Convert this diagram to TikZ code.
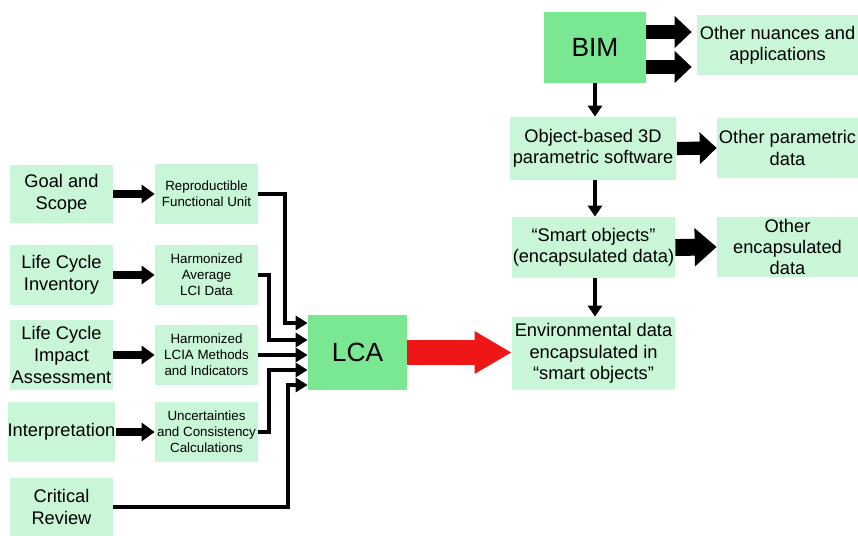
\documentclass[tikz,border=0pt]{standalone}
\usepackage{fontspec}
\setmainfont{Liberation Sans}
\usetikzlibrary{arrows.meta}
\definecolor{mintfill}{RGB}{200,246,214}
\definecolor{leaffill}{RGB}{122,232,146}
\definecolor{flowred}{RGB}{238,22,22}
\tikzset{
  % Boxes
  stagebox/.style  = { fill=mintfill, minimum width=2.06cm, inner xsep=0, align=center,
                        font=\fontsize{10.4}{12.6}\selectfont },
  detailbox/.style = { fill=mintfill, minimum width=2.06cm, minimum height=1.2cm, inner sep=0,
                        align=center, font=\fontsize{7.6}{9.2}\selectfont },
  corebox/.style   = { fill=leaffill, inner sep=0, font=\fontsize{15}{18}\selectfont },
  bimbox/.style    = { fill=mintfill, inner sep=0, align=center,
                        font=\fontsize{10.4}{12.2}\selectfont },
  % Arrows
  stepflow/.style  = { line width=4.2pt, -{Triangle[length=2.6mm,width=3.6mm]} },
  feedflow/.style  = { line width=2.3pt, -{Triangle[length=2.4mm,width=2.8mm]} },
  downflow/.style  = { line width=2.8pt, -{Triangle[length=2.2mm,width=2.8mm]} },
  sideflow/.style  = { line width=8.5pt, -{Triangle[length=3.4mm,width=6.2mm]} },
  mainflow/.style  = { flowred, line width=14pt, -{Triangle[length=7.4mm,width=8mm]} }
}

\begin{document}
\begin{tikzpicture}[x=0.02cm, y=-0.02cm]
  \useasboundingbox (0,0) rectangle (858,536);

  % --- LCA stages --------------------------------------------------
  \node[stagebox, minimum height=1.16cm] (goal)   at (61.5,194) {Goal and\\Scope};
  \node[stagebox, minimum height=1.2cm]  (lci)    at (61.5,275) {Life Cycle\\Inventory};
  \node[stagebox, minimum height=1.24cm] (lcia)   at (61.5,355) {Life Cycle\\Impact\\Assessment};
  \node[stagebox, minimum height=1.2cm]  (interp) at (61.5,432) {Interpretation};
  \node[stagebox, minimum height=1.16cm] (review) at (61.5,507) {Critical\\Review};

  \node[detailbox] (repro)   at (206.5,194) {Reproductible\\Functional Unit};
  \node[detailbox] (lcidata) at (206.5,275) {Harmonized\\Average\\LCI Data};
  \node[detailbox] (methods) at (206.5,355) {Harmonized\\LCIA Methods\\and Indicators};
  \node[detailbox] (unc)     at (206.5,432) {Uncertainties\\and Consistency\\Calculations};

  \node[corebox, minimum width=1.98cm, minimum height=1.5cm] (lca) at (357.5,352.5) {LCA};

  \foreach \a/\b in {goal/repro, lci/lcidata, lcia/methods, interp/unc}
    \draw[stepflow] (\a.east) -- (\b.west);

  % feeds into LCA
  \coordinate (k1) at (285,323);
  \coordinate (k2) at (269,340);
  \coordinate (k4) at (269,370);
  \coordinate (k5) at (288,385);
  \draw[feedflow] (repro.east) -| (k1) -- (k1 -| lca.west);
  \draw[feedflow] (lcidata.east) -| (k2) -- (k2 -| lca.west);
  \draw[feedflow] (methods.east) -- (methods.east -| lca.west);
  \draw[feedflow] (unc.east) -| (k4) -- (k4 -| lca.west);
  \draw[feedflow] (review.east) -| (k5) -- (k5 -| lca.west);

  % --- BIM side ----------------------------------------------------
  \node[corebox, minimum width=2.04cm, minimum height=1.42cm] (bim) at (595,47.5) {BIM};
  \node[bimbox, minimum width=3.22cm, minimum height=1.2cm]  (nuances) at (777.5,45)  {Other nuances and\\applications};
  \node[bimbox, minimum width=3.34cm, minimum height=1.26cm] (objsw)   at (593,148.5) {Object-based 3D\\parametric software};
  \node[bimbox, minimum width=2.82cm, minimum height=1.2cm]  (param)   at (787.5,148) {Other parametric\\data};
  \node[bimbox, minimum width=3.26cm, minimum height=1.22cm] (smart)   at (593.5,247.5) {``Smart objects''\\(encapsulated data)};
  \node[bimbox, minimum width=2.82cm, minimum height=1.2cm]  (encap)   at (787.5,247) {Other\\encapsulated\\data};
  \node[bimbox, minimum width=3.26cm, minimum height=1.46cm] (envdata) at (593.5,353.5) {Environmental data\\encapsulated in\\``smart objects''};

  \draw[sideflow, shorten >=1mm] ([yshift=0.31cm]bim.east) -- ([yshift=0.31cm]bim.east -| nuances.west);
  \draw[sideflow, shorten >=1mm] ([yshift=-0.39cm]bim.east) -- ([yshift=-0.39cm]bim.east -| nuances.west);
  \draw[downflow] (bim.south) -- (bim.south |- objsw.north);
  \draw[downflow] (bim.south |- objsw.south) -- (bim.south |- smart.north);
  \draw[downflow] (bim.south |- smart.south) -- (bim.south |- envdata.north);
  \draw[sideflow, line width=7.5pt] (objsw.east) -- (param.west);
  \draw[sideflow, line width=9.6pt, -{Triangle[length=4.4mm,width=7.4mm]}] (smart.east) -- (encap.west);

  % LCA result into the smart objects
  \draw[mainflow] (lca.east) -- (lca.east -| envdata.west);

\end{tikzpicture}
\end{document}
